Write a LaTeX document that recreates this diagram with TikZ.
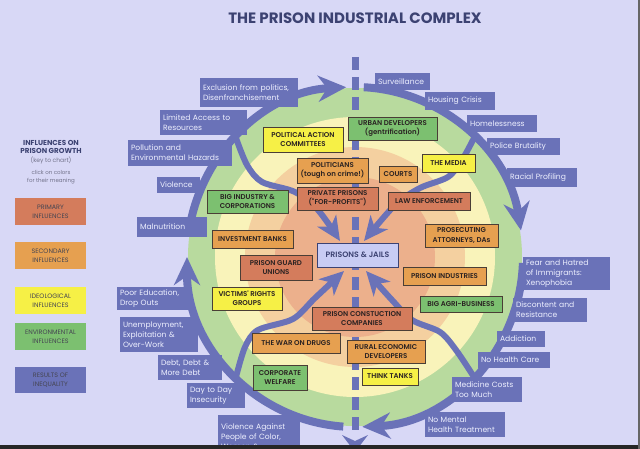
\documentclass[tikz,border=0pt]{standalone}
\usepackage{fontspec}
\setmainfont{Poppins}
\newfontfamily\semib{Poppins SemiBold}
\usetikzlibrary{arrows.meta,calc}
\definecolor{bgc}{HTML}{D8D8F6}
\definecolor{arrblue}{HTML}{6A72B8}
\definecolor{restext}{HTML}{EEF0FF}
\definecolor{primc}{HTML}{D47C5C}
\definecolor{secc}{HTML}{E6A050}
\definecolor{yelc}{HTML}{F6F046}
\definecolor{grnc}{HTML}{7CC070}
\definecolor{pjc}{HTML}{C8CCF4}
\definecolor{titleblue}{HTML}{3C4272}
\definecolor{ibord}{HTML}{4A3E36}
\definecolor{itext}{HTML}{2A2222}
\definecolor{ltext}{HTML}{454552}
\definecolor{graytxt}{HTML}{72728A}
\definecolor{ringgreen}{HTML}{B8DA9E}
\definecolor{ringyellow}{HTML}{F9F3BA}
\definecolor{ringpeach}{HTML}{F4D0A0}
\definecolor{ringinner}{HTML}{ECB08C}
\tikzset{
  rbox/.style={fill=arrblue, text=restext, font=\fontsize{7.6}{10.2}\selectfont, align=left, inner xsep=3pt, inner ysep=1pt},
  ibox/.style={draw=ibord, line width=0.6pt, text=itext, font=\semib\fontsize{7}{9.2}\selectfont, align=center, inner sep=1pt},
  lbox/.style={text=ltext, font=\fontsize{6.4}{8.6}\selectfont, align=center, inner sep=1pt},
  outarc/.style={draw=arrblue, line width=8pt, -{Stealth[length=28pt,width=26pt,inset=9pt]}},
  inarr/.style={draw=arrblue, line width=6pt, -{Stealth[length=24pt,width=22pt,inset=7pt]}},
  dashline/.style={draw=arrblue, line width=7pt, dash pattern=on 13pt off 7pt},
}
\newcommand{\ibx}[7]{%
  \pgfmathsetmacro{\bxw}{#4-#2}\pgfmathsetmacro{\bxh}{#5-#3}%
  \node[ibox, fill=#6, minimum width=\bxw pt, minimum height=\bxh pt] (#1) at ({(#2+#4)/2},{(#3+#5)/2}) {#7};}
\newcommand{\rbx}[6]{%
  \pgfmathsetmacro{\bxw}{#4-#2-6}\pgfmathsetmacro{\bxh}{#5-#3}%
  \node[rbox, text width=\bxw pt, minimum height=\bxh pt] (#1) at ({(#2+#4)/2},{(#3+#5)/2}) {#6};}
\newcommand{\lbx}[7]{%
  \pgfmathsetmacro{\bxw}{#4-#2}\pgfmathsetmacro{\bxh}{#5-#3}%
  \node[lbox, fill=#6, minimum width=\bxw pt, minimum height=\bxh pt] (#1) at ({(#2+#4)/2},{(#3+#5)/2}) {#7};}
\begin{document}
\begin{tikzpicture}[x=1pt,y=-1pt]
\useasboundingbox (0,0) rectangle (640,449);
\clip (0,0) rectangle (640,449);
\fill[bgc] (0,0) rectangle (640,449);
\coordinate (ctr) at (355,257);
% rings
\fill[ringgreen] (ctr) ellipse [x radius=167pt, y radius=169pt];
\fill[ringyellow] (ctr) circle [radius=140pt];
\fill[ringpeach] (ctr) circle [radius=110pt];
\fill[ringinner] (ctr) circle [radius=80pt];
% dashed axis
\coordinate (dtop) at (355,57);
\coordinate (dbot) at (355,433);
\draw[dashline] (dtop) -- (dbot);
\fill[arrblue] (342,435) -- (355,441) -- (368,435) -- (355,452) -- cycle;
% outer cycle arcs
\draw[outarc] ($(ctr)+(172:168pt and 170pt)$) arc[start angle=172, end angle=93, x radius=168pt, y radius=170pt];
\draw[outarc] ($(ctr)+(87:168pt and 170pt)$) arc[start angle=87, end angle=9, x radius=168pt, y radius=170pt];
\draw[outarc] ($(ctr)+(-2:168pt and 170pt)$) arc[start angle=-2, end angle=-87.5, x radius=168pt, y radius=170pt];
\draw[outarc] ($(ctr)+(-94:168pt and 170pt)$) arc[start angle=-94, end angle=-180, x radius=168pt, y radius=170pt];
% inner branches
\draw[inarr] plot[smooth, tension=0.5] coordinates {(236,138) (247,165) (262,182) (295,192) (318,210) (340,241)};
\draw[inarr] plot[smooth, tension=0.5] coordinates {(474,138) (462,160) (448,177) (420,188) (395,205) (364,241)};
\draw[inarr] plot[smooth, tension=0.5] coordinates {(474,377) (456,350) (440,332) (412,320) (392,300) (366,271)};
\draw[inarr] plot[smooth, tension=0.5] coordinates {(236,377) (245,347) (258,330) (293,319) (315,298) (344,271)};
% influence boxes
\ibx{pac}{263}{127}{343}{152}{yelc}{POLITICAL ACTION\\COMMITTEES}
\ibx{urban}{348}{117}{437}{140}{grnc}{URBAN DEVELOPERS\\{\mdseries(gentrification)}}
\ibx{politicians}{297}{158}{368}{183}{secc}{POLITICIANS\\(tough on crime!)}
\ibx{courts}{379}{166}{417}{182}{secc}{COURTS}
\ibx{media}{422}{154}{475}{172}{yelc}{THE MEDIA}
\ibx{private}{297}{187}{378}{210}{primc}{PRIVATE PRISONS\\("FOR-PROFITS")}
\ibx{law}{388}{192}{470}{210}{primc}{LAW ENFORCEMENT}
\ibx{bigind}{207}{190}{288}{213}{grnc}{BIG INDUSTRY \&\\CORPORATIONS}
\ibx{invest}{212}{230}{293}{248}{secc}{INVESTMENT BANKS}
\ibx{prosec}{425}{224}{498}{247}{secc}{PROSECUTING\\ATTORNEYS, DAs}
\ibx{guard}{240}{255}{312}{280}{primc}{PRISON GUARD\\UNIONS}
\ibx{industries}{403}{267}{486}{285}{secc}{PRISON INDUSTRIES}
\ibx{victims}{212}{287}{282}{310}{yelc}{VICTIMS' RIGHTS\\GROUPS}
\ibx{agri}{420}{296}{502}{312}{grnc}{BIG AGRI-BUSINESS}
\ibx{construction}{312}{307}{412}{330}{primc}{PRISON CONSTUCTION\\COMPANIES}
\ibx{war}{252}{333}{340}{353}{secc}{THE WAR ON DRUGS}
\ibx{rural}{347}{340}{425}{363}{secc}{RURAL ECONOMIC\\DEVELOPERS}
\ibx{corpwel}{253}{365}{307}{390}{grnc}{CORPORATE\\WELFARE}
\ibx{think}{362}{368}{418}{385}{yelc}{THINK TANKS}
\node[ibox, fill=pjc, draw=titleblue, text=titleblue, font=\semib\fontsize{7.8}{9}\selectfont, minimum width=81pt, minimum height=24pt] (prisons) at (357.5,255) {PRISONS \& JAILS};
% results of inequality
\rbx{excl}{200}{78}{298}{107}{Exclusion from politics,\\Disenfranchisement}
\rbx{limited}{160}{110}{247}{135}{Limited Access to\\Resources}
\rbx{pollution}{128}{140}{232}{166}{Pollution and\\Environmental Hazards}
\rbx{violence}{157}{177}{200}{193}{Violence}
\rbx{malnut}{137}{217}{207}{237}{Malnutrition}
\rbx{poored}{117}{287}{188}{310}{Poor Education,\\Drop Outs}
\rbx{unemp}{120}{317}{198}{352}{Unemployment,\\Exploitation \&\\Over-Work}
\rbx{debt}{158}{355}{222}{380}{Debt, Debt \&\\More Debt}
\rbx{daytoday}{187}{383}{245}{408}{Day to Day\\Insecurity}
\rbx{violagainst}{218}{415}{300}{458}{Violence Against\\People of Color,\\Women \&}
\rbx{surv}{375}{73}{430}{90}{Surveillance}
\rbx{housing}{425}{92}{495}{110}{Housing Crisis}
\rbx{homeless}{467}{115}{537}{132}{Homelessness}
\rbx{police}{487}{138}{560}{155}{Police Brutality}
\rbx{racial}{507}{168}{577}{187}{Racial Profiling}
\rbx{fear}{523}{257}{610}{290}{Fear and Hatred\\of Immigrants:\\Xenophobia}
\rbx{discontent}{513}{298}{587}{322}{Discontent and\\Resistance}
\rbx{addiction}{497}{331}{545}{347}{Addiction}
\rbx{nohealth}{478}{352}{550}{368}{No Health Care}
\rbx{medicine}{452}{377}{522}{402}{Medicine Costs\\Too Much}
\rbx{nomental}{425}{412}{505}{437}{No Mental\\Health Treatment}
% title
\node[font=\bfseries\fontsize{15}{17}\selectfont, text=titleblue] (title) at (355,18) {THE PRISON INDUSTRIAL COMPLEX};
% legend
\node[font=\bfseries\fontsize{7.2}{8.6}\selectfont, text=titleblue, align=center] (lgtitle) at (51,147) {INFLUENCES ON\\PRISON GROWTH};
\node[font=\fontsize{6}{7}\selectfont, text=graytxt] (lgkey) at (51,160) {(key to chart)};
\node[font=\fontsize{5.5}{8.5}\selectfont, text=graytxt, align=center] (lgclick) at (51,177) {click on colors\\for their meaning};
\lbx{lprim}{15}{198}{86}{225}{primc}{PRIMARY\\INFLUENCES}
\lbx{lsec}{15}{242}{86}{269}{secc}{SECONDARY\\INFLUENCES}
\lbx{lideo}{15}{287}{86}{314}{yelc}{IDEOLOGICAL\\INFLUENCES}
\lbx{lenv}{15}{323}{86}{350}{grnc}{ENVIRONMENTAL\\INFLUENCES}
\lbx{lres}{15}{367}{86}{393}{arrblue}{RESULTS OF\\INEQUALITY}
% screenshot edges
\fill[black!85] (0,445) rectangle (640,449);
\fill[black!60] (638,0) rectangle (640,449);
\end{tikzpicture}
\end{document}
